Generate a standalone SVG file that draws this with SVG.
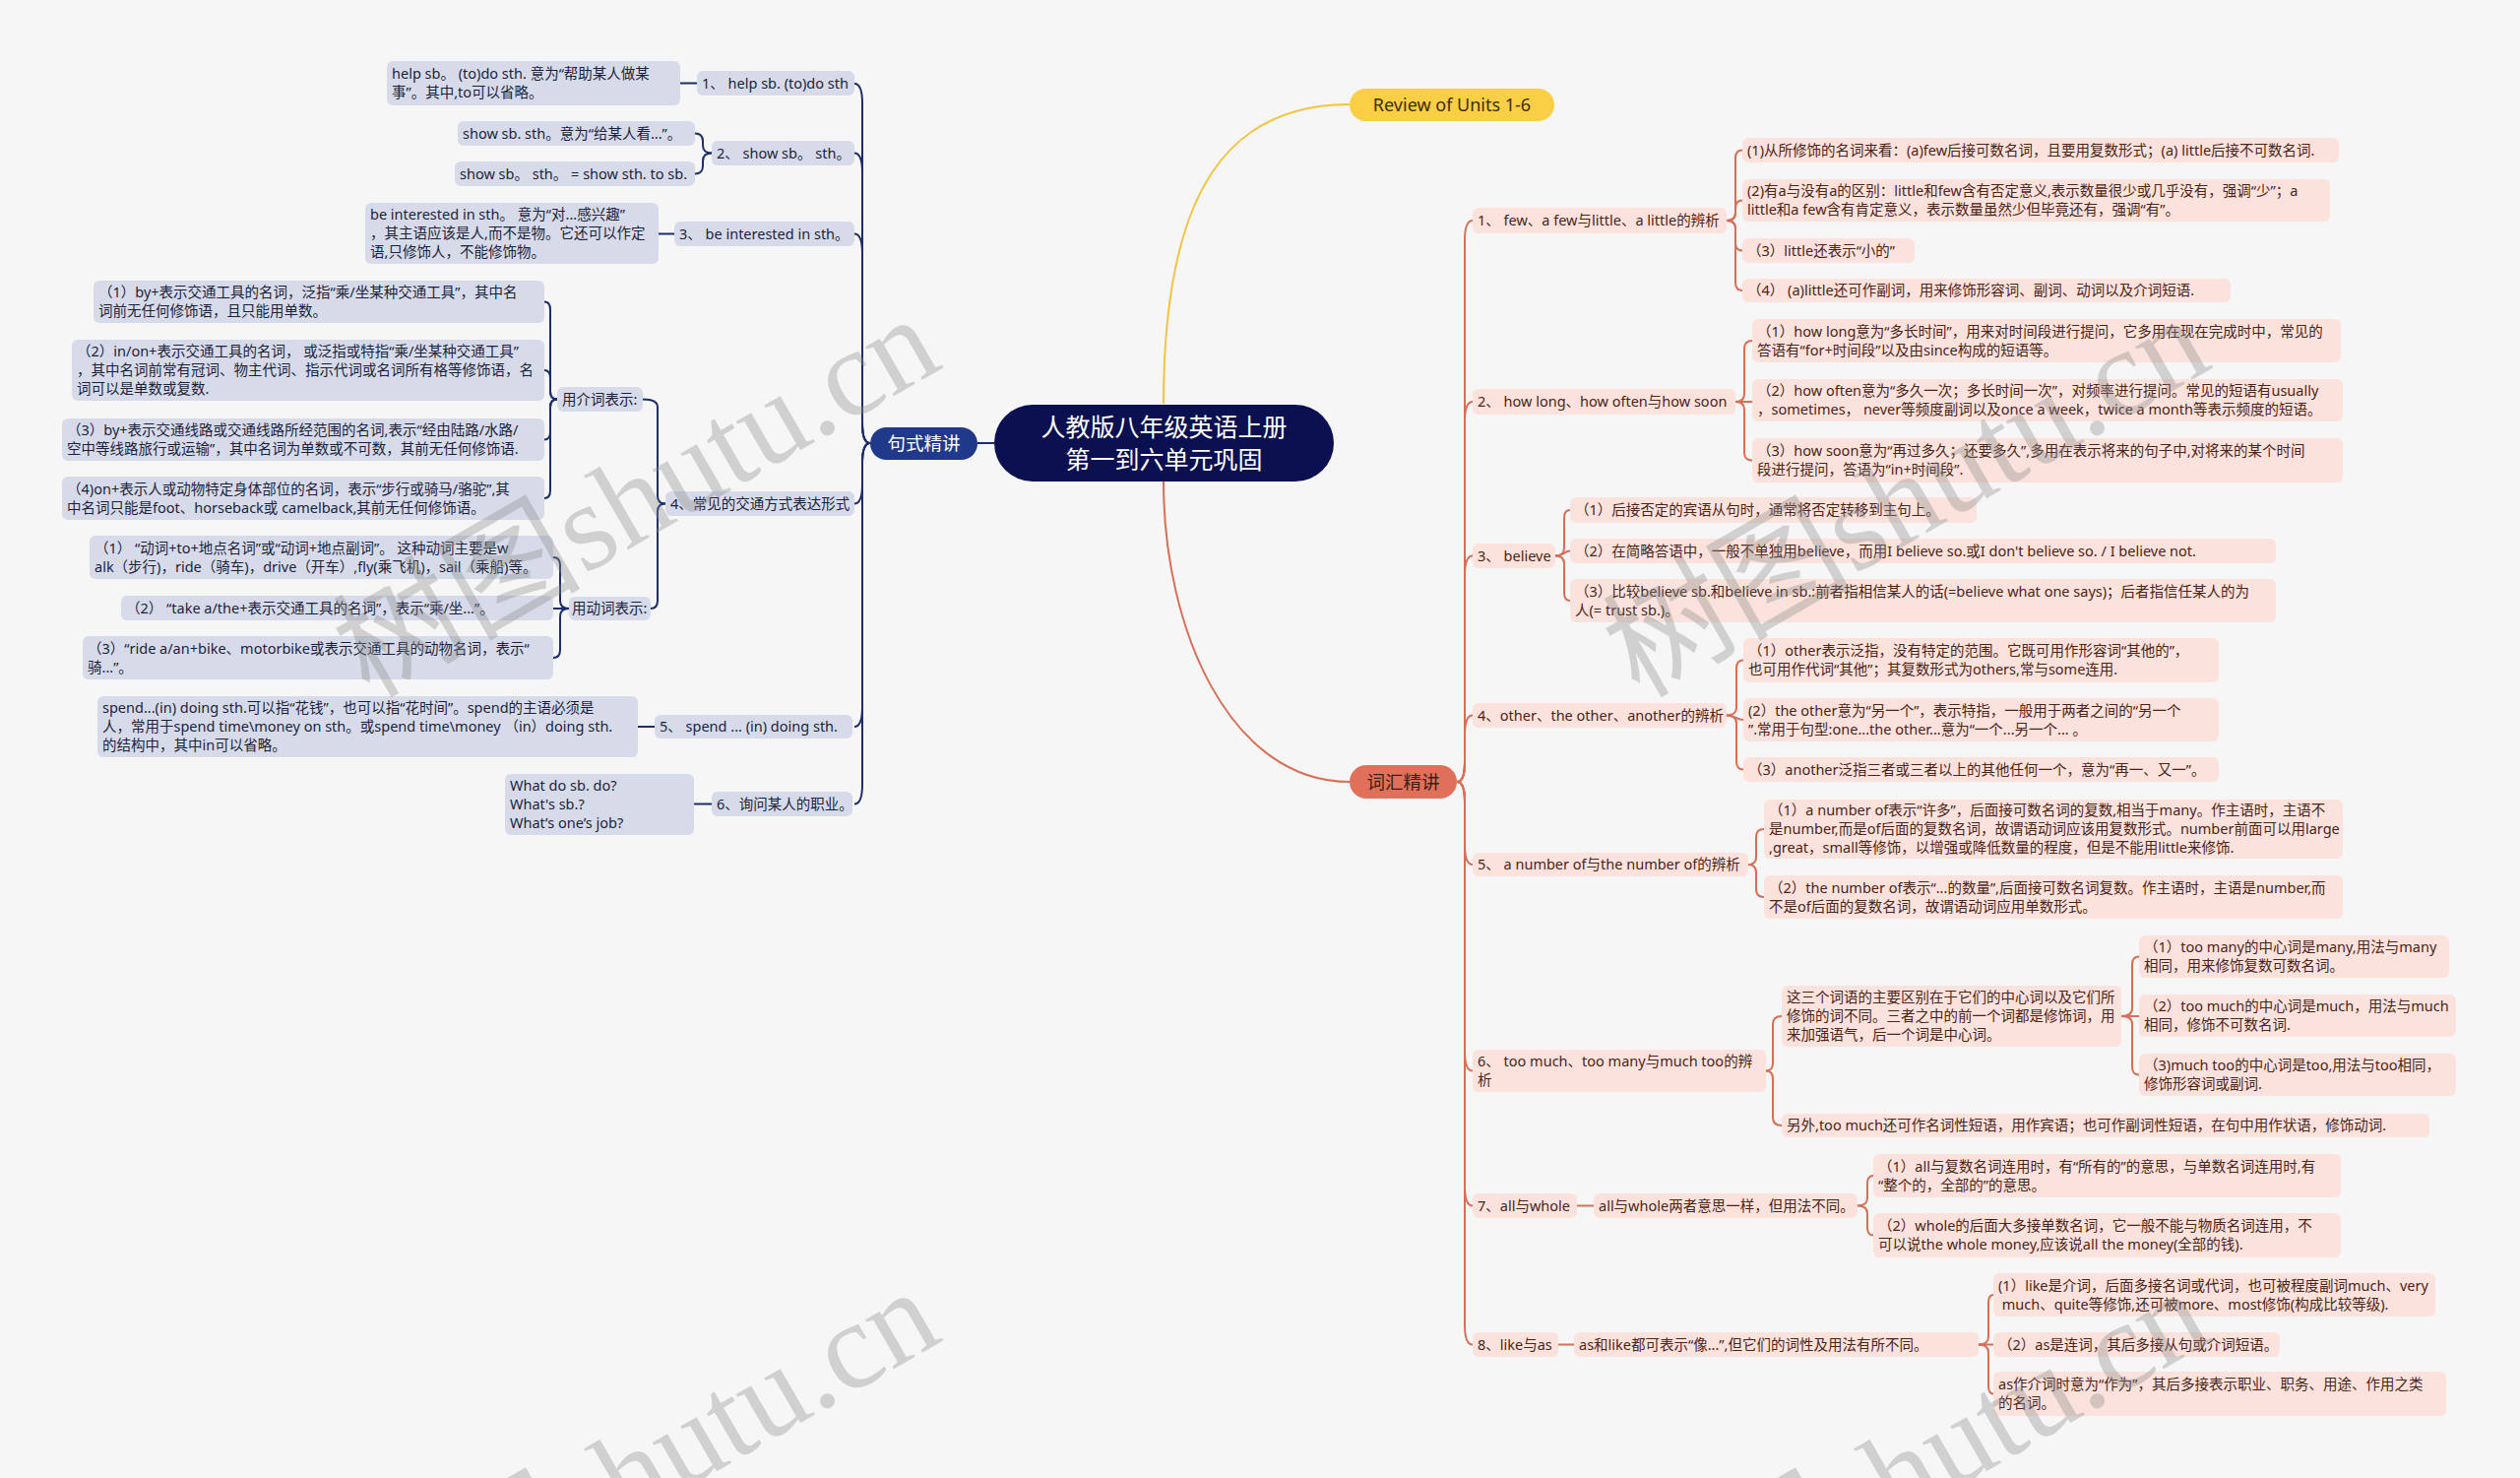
<svg xmlns="http://www.w3.org/2000/svg" width="2560" height="1501" viewBox="0 0 2560 1501">
<style>
.bl{fill:#d7dbe9}
.br{fill:#fbe2dc}
text{font-family:'Noto Sans','Noto Sans CJK SC',sans-serif}
.tl{font-size:14.5px;fill:#1b1f3c}
.tr{font-size:14.5px;fill:#4b2418}
.cl{stroke:#1d2d6c;fill:none;stroke-width:2}
.cr{stroke:#d76f57;fill:none;stroke-width:2}
.wm{font-family:'Liberation Serif','Noto Sans CJK SC',serif;font-size:126px;fill:#8a8a8a;opacity:0.35}
</style>
<rect x="0" y="0" width="2560" height="1501" fill="#f6f6f6"/>

<g id="connectors">
<path d="M1182,410 C1182,190 1250,106 1371,106" stroke="#f2c443" stroke-width="2" fill="none"/>
<path d="M1182,489 C1182,640 1250,794 1371,794" stroke="#d76f57" stroke-width="2" fill="none"/>
<path class="cl" d="M1010,450 H993"/>
<path class="cl" d="M884,450 Q876,450 876,430 L876,105 Q876,85 868,85"/>
<path class="cl" d="M884,450 Q876,450 876,430 L876,175.5 Q876,155.5 868,155.5"/>
<path class="cl" d="M884,450 Q876,450 876,430 L876,257.5 Q876,237.5 868,237.5"/>
<path class="cl" d="M884,450 Q876,450 876,470 L876,491.5 Q876,511.5 868,511.5"/>
<path class="cl" d="M884,450 Q876,450 876,470 L876,718 Q876,738 868,738"/>
<path class="cl" d="M884,450 Q876,450 876,470 L876,796.5 Q876,816.5 868,816.5"/>
<path class="cl" d="M708,84.5 H691"/>
<path class="cl" d="M723,155.5 Q714,155.5 714,147.5 L714,143.5 Q714,135.5 706,135.5"/>
<path class="cl" d="M723,155.5 Q714,155.5 714,163.5 L714,168.5 Q714,176.5 706,176.5"/>
<path class="cl" d="M685,237.5 H669"/>
<path class="cl" d="M676,511.5 Q668,511.5 668,503.5 L668,413.5 Q668,405.5 653,405.5"/>
<path class="cl" d="M676,511.5 Q668,511.5 668,519.5 L668,610 Q668,618 661,618"/>
<path class="cl" d="M566,405.5 Q559,405.5 559,397.5 L559,314.5 Q559,306.5 553,306.5"/>
<path class="cl" d="M566,405.5 Q559,405.5 559,397.5 L559,384 Q559,376 553,376"/>
<path class="cl" d="M566,405.5 Q559,405.5 559,413.5 L559,438.5 Q559,446.5 553,446.5"/>
<path class="cl" d="M566,405.5 Q559,405.5 559,413.5 L559,498 Q559,506 553,506"/>
<path class="cl" d="M578,618 Q569,618 569,610 L569,574 Q569,566 562,566"/>
<path class="cl" d="M578,618 H562"/>
<path class="cl" d="M578,618 Q569,618 569,626 L569,660 Q569,668 562,668"/>
<path class="cl" d="M665,738 H648"/>
<path class="cl" d="M723,816.5 H705"/>

<path class="cr" d="M1480,794 Q1488,794 1488,774 L1488,244 Q1488,224 1496,224"/>
<path class="cr" d="M1480,794 Q1488,794 1488,774 L1488,428 Q1488,408 1496,408"/>
<path class="cr" d="M1480,794 Q1488,794 1488,774 L1488,584.5 Q1488,564.5 1496,564.5"/>
<path class="cr" d="M1480,794 Q1488,794 1488,774 L1488,746.5 Q1488,726.5 1496,726.5"/>
<path class="cr" d="M1480,794 Q1488,794 1488,814 L1488,858 Q1488,878 1496,878"/>
<path class="cr" d="M1480,794 Q1488,794 1488,814 L1488,1067.5 Q1488,1087.5 1496,1087.5"/>
<path class="cr" d="M1480,794 Q1488,794 1488,814 L1488,1204.5 Q1488,1224.5 1496,1224.5"/>
<path class="cr" d="M1480,794 Q1488,794 1488,814 L1488,1345.5 Q1488,1365.5 1496,1365.5"/>
<path class="cr" d="M1754,224 Q1763,224 1763,216 L1763,160.5 Q1763,152.5 1770,152.5"/>
<path class="cr" d="M1754,224 Q1763,224 1763,216 L1763,211.5 Q1763,203.5 1770,203.5"/>
<path class="cr" d="M1754,224 Q1763,224 1763,232 L1763,246.5 Q1763,254.5 1770,254.5"/>
<path class="cr" d="M1754,224 Q1763,224 1763,232 L1763,287 Q1763,295 1770,295"/>
<path class="cr" d="M1763,408 Q1772,408 1772,400 L1772,354 Q1772,346 1780,346"/>
<path class="cr" d="M1763,408 H1780"/>
<path class="cr" d="M1763,408 Q1772,408 1772,416 L1772,459.5 Q1772,467.5 1780,467.5"/>
<path class="cr" d="M1580,564.5 Q1589,564.5 1589,556.5 L1589,526 Q1589,518 1595,518"/>
<path class="cr" d="M1580,564.5 C1589,564.5 1589,559.5 1595,559.5"/>
<path class="cr" d="M1580,564.5 Q1589,564.5 1589,572.5 L1589,602 Q1589,610 1595,610"/>
<path class="cr" d="M1754,726.5 Q1764,726.5 1764,718.5 L1764,678.5 Q1764,670.5 1771,670.5"/>
<path class="cr" d="M1754,726.5 C1764,726.5 1764,731 1771,731"/>
<path class="cr" d="M1754,726.5 Q1764,726.5 1764,734.5 L1764,773.5 Q1764,781.5 1771,781.5"/>
<path class="cr" d="M1776,878 Q1784,878 1784,870 L1784,850 Q1784,842 1792,842"/>
<path class="cr" d="M1776,878 Q1784,878 1784,886 L1784,903 Q1784,911 1792,911"/>
<path class="cr" d="M1794,1087.5 Q1801,1087.5 1801,1079.5 L1801,1040 Q1801,1032 1810,1032"/>
<path class="cr" d="M1794,1087.5 Q1801,1087.5 1801,1095.5 L1801,1135 Q1801,1143 1810,1143"/>
<path class="cr" d="M2155,1032 Q2166,1032 2166,1024 L2166,979.5 Q2166,971.5 2173,971.5"/>
<path class="cr" d="M2155,1032 H2173"/>
<path class="cr" d="M2155,1032 Q2166,1032 2166,1040 L2166,1083.5 Q2166,1091.5 2173,1091.5"/>
<path class="cr" d="M1602,1224.5 H1619"/>
<path class="cr" d="M1887,1224.5 Q1897,1224.5 1897,1216.5 L1897,1202 Q1897,1194 1903,1194"/>
<path class="cr" d="M1887,1224.5 Q1897,1224.5 1897,1232.5 L1897,1246.5 Q1897,1254.5 1903,1254.5"/>
<path class="cr" d="M1583,1365.5 H1599"/>
<path class="cr" d="M2010,1365.5 Q2020,1365.5 2020,1357.5 L2020,1323 Q2020,1315 2025,1315"/>
<path class="cr" d="M2010,1365.5 H2025"/>
<path class="cr" d="M2010,1365.5 Q2020,1365.5 2020,1373.5 L2020,1407.5 Q2020,1415.5 2025,1415.5"/>
</g>

<g id="root"><rect x="1010" y="411" width="345" height="78" rx="39" fill="#0b1050"/>
<text x="1182.5" text-anchor="middle" font-size="25" fill="#ffffff"><tspan x="1182.5" y="443">人教版八年级英语上册</tspan><tspan x="1182.5" y="476">第一到六单元巩固</tspan></text></g>
<g id="n-jushi"><rect x="884" y="434" width="109" height="33" rx="16.5" fill="#20398a"/><text x="938.5" y="457" text-anchor="middle" font-size="18.5" fill="#ffffff">句式精讲</text></g>
<g id="n-review"><rect x="1371" y="90" width="208" height="33" rx="16.5" fill="#fbcf45"/><text x="1475" y="112.5" text-anchor="middle" font-size="18" fill="#3b2e00">Review of Units 1-6</text></g>
<g id="n-cihui"><rect x="1371" y="777" width="109" height="34" rx="17" fill="#e0705a"/><text x="1425.5" y="800.5" text-anchor="middle" font-size="18.5" fill="#3b1f17">词汇精讲</text></g>

<g id="L1"><rect class="bl" x="708" y="72" width="160" height="25" rx="6"/><text class="tl" x="713" y="90">1、 help sb. (to)do sth</text></g>
<g id="L1c"><rect class="bl" x="393" y="62" width="298" height="45" rx="6"/><text class="tl"><tspan x="398" y="80">help sb。  (to)do sth. 意为“帮助某人做某</tspan><tspan x="398" y="99">事”。其中,to可以省略。</tspan></text></g>
<g id="L2"><rect class="bl" x="723" y="143" width="145" height="25" rx="6"/><text class="tl" x="728" y="160.5">2、 show sb。 sth。</text></g>
<g id="L2c1"><rect class="bl" x="465" y="123" width="241" height="25" rx="6"/><text class="tl" x="470" y="140.5">show sb. sth。意为“给某人看...”。</text></g>
<g id="L2c2"><rect class="bl" x="462" y="164" width="244" height="25" rx="6"/><text class="tl" x="467" y="181.5">show sb。 sth。 = show sth. to sb.</text></g>
<g id="L3"><rect class="bl" x="685" y="225" width="183" height="25" rx="6"/><text class="tl" x="690" y="242.5">3、 be interested in sth。</text></g>
<g id="L3c"><rect class="bl" x="371" y="206" width="298" height="62" rx="6"/><text class="tl"><tspan x="376" y="223">be interested in sth。 意为“对...感兴趣”</tspan><tspan x="376" y="242">，其主语应该是人,而不是物。它还可以作定</tspan><tspan x="376" y="261">语,只修饰人，不能修饰物。</tspan></text></g>
<g id="L4"><rect class="bl" x="676" y="499" width="192" height="25" rx="6"/><text class="tl" x="681" y="516.5">4、常见的交通方式表达形式</text></g>
<g id="L4a"><rect class="bl" x="566" y="393" width="87" height="25" rx="6"/><text class="tl" x="571" y="410.5">用介词表示:</text></g>
<g id="L4b"><rect class="bl" x="578" y="606" width="83" height="24" rx="6"/><text class="tl" x="581" y="623">用动词表示:</text></g>
<g id="a1"><rect class="bl" x="95" y="285" width="458" height="43" rx="6"/><text class="tl"><tspan x="100" y="302">（1）by+表示交通工具的名词，泛指“乘/坐某种交通工具”，其中名</tspan><tspan x="100" y="321">词前无任何修饰语，且只能用单数。</tspan></text></g>
<g id="a2"><rect class="bl" x="73" y="345" width="480" height="62" rx="6"/><text class="tl"><tspan x="78" y="362">（2）in/on+表示交通工具的名词， 或泛指或特指“乘/坐某种交通工具”</tspan><tspan x="78" y="381">，其中名词前常有冠词、物主代词、指示代词或名词所有格等修饰语，名</tspan><tspan x="78" y="400">词可以是单数或复数.</tspan></text></g>
<g id="a3"><rect class="bl" x="63" y="425" width="490" height="43" rx="6"/><text class="tl"><tspan x="68" y="442">（3）by+表示交通线路或交通线路所经范围的名词,表示“经由陆路/水路/</tspan><tspan x="68" y="461">空中等线路旅行或运输”，其中名词为单数或不可数，其前无任何修饰语.</tspan></text></g>
<g id="a4"><rect class="bl" x="63" y="484" width="490" height="44" rx="6"/><text class="tl"><tspan x="68" y="501.5">（4)on+表示人或动物特定身体部位的名词，表示“步行或骑马/骆驼”,其</tspan><tspan x="68" y="520.5">中名词只能是foot、horseback或 camelback,其前无任何修饰语。</tspan></text></g>
<g id="b1"><rect class="bl" x="91" y="544" width="471" height="44" rx="6"/><text class="tl"><tspan x="96" y="561.5">（1） “动词+to+地点名词”或“动词+地点副词”。 这种动词主要是w</tspan><tspan x="96" y="580.5">alk（步行)，ride（骑车)，drive（开车）,fly(乘飞机)，sail（乘船)等。</tspan></text></g>
<g id="b2"><rect class="bl" x="123" y="605" width="439" height="25" rx="6"/><text class="tl" x="128" y="622.5">（2） “take a/the+表示交通工具的名词”，表示“乘/坐...”。</text></g>
<g id="b3"><rect class="bl" x="84" y="646" width="478" height="44" rx="6"/><text class="tl"><tspan x="89" y="663.5">（3）“ride a/an+bike、motorbike或表示交通工具的动物名词，表示“</tspan><tspan x="89" y="682.5">骑...”。</tspan></text></g>
<g id="L5"><rect class="bl" x="665" y="726" width="201" height="24" rx="6"/><text class="tl" x="670" y="743">5、 spend ...  (in) doing sth.</text></g>
<g id="L5c"><rect class="bl" x="99" y="707" width="549" height="62" rx="6"/><text class="tl"><tspan x="104" y="724">spend...(in) doing sth.可以指“花钱”，也可以指“花时间”。spend的主语必须是</tspan><tspan x="104" y="743">人，常用于spend time\money on sth。或spend time\money （in）doing sth.</tspan><tspan x="104" y="762">的结构中，其中in可以省略。</tspan></text></g>
<g id="L6"><rect class="bl" x="723" y="804" width="143" height="25" rx="6"/><text class="tl" x="728" y="821.5">6、询问某人的职业。</text></g>
<g id="L6c"><rect class="bl" x="513" y="786" width="192" height="62" rx="6"/><text class="tl"><tspan x="518" y="803">What do sb. do?</tspan><tspan x="518" y="822">What's sb.?</tspan><tspan x="518" y="841">What’s one’s job?</tspan></text></g>

<g id="R1"><rect class="br" x="1496" y="211" width="258" height="26" rx="6"/><text class="tr" x="1501" y="229">1、 few、a few与little、a little的辨析</text></g>
<g id="R1c1"><rect class="br" x="1770" y="140" width="606" height="25" rx="6"/><text class="tr" x="1775" y="157.5">(1)从所修饰的名词来看：(a)few后接可数名词，且要用复数形式；(a)  little后接不可数名词.</text></g>
<g id="R1c2"><rect class="br" x="1770" y="182" width="597" height="43" rx="6"/><text class="tr"><tspan x="1775" y="199">(2)有a与没有a的区别：little和few含有否定意义,表示数量很少或几乎没有，强调“少”；a</tspan><tspan x="1775" y="218">little和a few含有肯定意义，表示数量虽然少但毕竟还有，强调“有”。</tspan></text></g>
<g id="R1c3"><rect class="br" x="1770" y="242" width="175" height="25" rx="6"/><text class="tr" x="1775" y="259.5">（3）little还表示“小的”</text></g>
<g id="R1c4"><rect class="br" x="1770" y="283" width="496" height="24" rx="6"/><text class="tr" x="1775" y="300">（4）  (a)little还可作副词，用来修饰形容词、副词、动词以及介词短语.</text></g>
<g id="R2"><rect class="br" x="1496" y="395" width="267" height="26" rx="6"/><text class="tr" x="1501" y="413">2、 how long、how often与how soon</text></g>
<g id="R2c1"><rect class="br" x="1780" y="324" width="598" height="44" rx="6"/><text class="tr"><tspan x="1785" y="341.5">（1）how long意为“多长时间”，用来对时间段进行提问，它多用在现在完成时中，常见的</tspan><tspan x="1785" y="360.5">答语有“for+时间段”以及由since构成的短语等。</tspan></text></g>
<g id="R2c2"><rect class="br" x="1780" y="385" width="600" height="43" rx="6"/><text class="tr"><tspan x="1785" y="402">（2）how often意为“多久一次；多长时间一次”，对频率进行提问。常见的短语有usually</tspan><tspan x="1785" y="421">，sometimes， never等频度副词以及once a week，twice a month等表示频度的短语。</tspan></text></g>
<g id="R2c3"><rect class="br" x="1780" y="445" width="600" height="45" rx="6"/><text class="tr"><tspan x="1785" y="463">（3）how soon意为“再过多久；还要多久”,多用在表示将来的句子中,对将来的某个时间</tspan><tspan x="1785" y="482">段进行提问，答语为“in+时间段”.</tspan></text></g>
<g id="R3"><rect class="br" x="1496" y="552" width="84" height="25" rx="6"/><text class="tr" x="1501" y="569.5">3、 believe</text></g>
<g id="R3c1"><rect class="br" x="1595" y="505" width="413" height="26" rx="6"/><text class="tr" x="1600" y="523">（1）后接否定的宾语从句时，通常将否定转移到主句上。</text></g>
<g id="R3c2"><rect class="br" x="1595" y="547" width="717" height="25" rx="6"/><text class="tr" x="1600" y="564.5">（2）在简略答语中，一般不单独用believe，而用I believe so.或I don't believe so. / I believe not.</text></g>
<g id="R3c3"><rect class="br" x="1595" y="588" width="717" height="44" rx="6"/><text class="tr"><tspan x="1600" y="605.5">（3）比较believe sb.和believe in sb.:前者指相信某人的话(=believe what one says)；后者指信任某人的为</tspan><tspan x="1600" y="624.5">人(= trust sb.)。</tspan></text></g>
<g id="R4"><rect class="br" x="1496" y="714" width="258" height="25" rx="6"/><text class="tr" x="1501" y="731.5">4、other、the other、another的辨析</text></g>
<g id="R4c1"><rect class="br" x="1771" y="648" width="483" height="45" rx="6"/><text class="tr"><tspan x="1776" y="666">（1）other表示泛指，没有特定的范围。它既可用作形容词“其他的”，</tspan><tspan x="1776" y="685">也可用作代词“其他”；其复数形式为others,常与some连用.</tspan></text></g>
<g id="R4c2"><rect class="br" x="1771" y="709" width="483" height="44" rx="6"/><text class="tr"><tspan x="1776" y="726.5">(2）the other意为“另一个”，表示特指，一般用于两者之间的“另一个</tspan><tspan x="1776" y="745.5">”.常用于句型:one...the other...意为“一个...另一个... 。</tspan></text></g>
<g id="R4c3"><rect class="br" x="1771" y="769" width="483" height="25" rx="6"/><text class="tr" x="1776" y="786.5">（3）another泛指三者或三者以上的其他任何一个，意为“再一、又一”。</text></g>
<g id="R5"><rect class="br" x="1496" y="866" width="280" height="24" rx="6"/><text class="tr" x="1501" y="883">5、 a number of与the number of的辨析</text></g>
<g id="R5c1"><rect class="br" x="1792" y="812" width="588" height="60" rx="6"/><text class="tr"><tspan x="1797" y="828">（1）a number of表示“许多”，后面接可数名词的复数,相当于many。作主语时，主语不</tspan><tspan x="1797" y="847">是number,而是of后面的复数名词，故谓语动词应该用复数形式。number前面可以用large</tspan><tspan x="1797" y="866">,great，small等修饰，以增强或降低数量的程度，但是不能用little来修饰.</tspan></text></g>
<g id="R5c2"><rect class="br" x="1792" y="889" width="588" height="44" rx="6"/><text class="tr"><tspan x="1797" y="906.5">（2）the number of表示“...的数量”,后面接可数名词复数。作主语时，主语是number,而</tspan><tspan x="1797" y="925.5">不是of后面的复数名词，故谓语动词应用单数形式。</tspan></text></g>
<g id="R6"><rect class="br" x="1496" y="1066" width="298" height="43" rx="6"/><text class="tr"><tspan x="1501" y="1083">6、 too much、too many与much too的辨</tspan><tspan x="1501" y="1102">析</tspan></text></g>
<g id="R6a"><rect class="br" x="1810" y="1001" width="345" height="62" rx="6"/><text class="tr"><tspan x="1815" y="1018">这三个词语的主要区别在于它们的中心词以及它们所</tspan><tspan x="1815" y="1037">修饰的词不同。三者之中的前一个词都是修饰词，用</tspan><tspan x="1815" y="1056">来加强语气，后一个词是中心词。</tspan></text></g>
<g id="R6a1"><rect class="br" x="2173" y="950" width="315" height="43" rx="6"/><text class="tr"><tspan x="2178" y="967">（1）too many的中心词是many,用法与many</tspan><tspan x="2178" y="986">相同，用来修饰复数可数名词。</tspan></text></g>
<g id="R6a2"><rect class="br" x="2173" y="1010" width="322" height="43" rx="6"/><text class="tr"><tspan x="2178" y="1027">（2）too much的中心词是much，用法与much</tspan><tspan x="2178" y="1046">相同，修饰不可数名词.</tspan></text></g>
<g id="R6a3"><rect class="br" x="2173" y="1070" width="322" height="43" rx="6"/><text class="tr"><tspan x="2178" y="1087">（3)much too的中心词是too,用法与too相同，</tspan><tspan x="2178" y="1106">修饰形容词或副词.</tspan></text></g>
<g id="R6b"><rect class="br" x="1810" y="1131" width="658" height="24" rx="6"/><text class="tr" x="1815" y="1148">另外,too much还可作名词性短语，用作宾语；也可作副词性短语，在句中用作状语，修饰动词.</text></g>
<g id="R7"><rect class="br" x="1496" y="1212" width="106" height="25" rx="6"/><text class="tr" x="1501" y="1229.5">7、all与whole</text></g>
<g id="R7a"><rect class="br" x="1619" y="1212" width="268" height="25" rx="6"/><text class="tr" x="1624" y="1229.5">all与whole两者意思一样，但用法不同。</text></g>
<g id="R7a1"><rect class="br" x="1903" y="1172" width="475" height="44" rx="6"/><text class="tr"><tspan x="1908" y="1189.5">（1）all与复数名词连用时，有“所有的”的意思，与单数名词连用时,有</tspan><tspan x="1908" y="1208.5">“整个的，全部的”的意思。</tspan></text></g>
<g id="R7a2"><rect class="br" x="1903" y="1232" width="475" height="45" rx="6"/><text class="tr"><tspan x="1908" y="1250">（2）whole的后面大多接单数名词，它一般不能与物质名词连用，不</tspan><tspan x="1908" y="1269">可以说the whole money,应该说all the money(全部的钱).</tspan></text></g>
<g id="R8"><rect class="br" x="1496" y="1353" width="87" height="25" rx="6"/><text class="tr" x="1501" y="1370.5">8、like与as</text></g>
<g id="R8a"><rect class="br" x="1599" y="1353" width="411" height="25" rx="6"/><text class="tr" x="1604" y="1370.5">as和like都可表示“像...”,但它们的词性及用法有所不同。</text></g>
<g id="R8a1"><rect class="br" x="2025" y="1293" width="449" height="44" rx="6"/><text class="tr"><tspan x="2030" y="1310.5">(1）like是介词，后面多接名词或代词，也可被程度副词much、very</tspan><tspan x="2030" y="1329.5"> much、quite等修饰,还可被more、most修饰(构成比较等级).</tspan></text></g>
<g id="R8a2"><rect class="br" x="2025" y="1353" width="291" height="25" rx="6"/><text class="tr" x="2030" y="1370.5">（2）as是连词，其后多接从句或介词短语。</text></g>
<g id="R8a3"><rect class="br" x="2025" y="1393" width="460" height="45" rx="6"/><text class="tr"><tspan x="2030" y="1411">as作介词时意为“作为”，其后多接表示职业、职务、用途、作用之类</tspan><tspan x="2030" y="1430">的名词。</tspan></text></g>

<g id="watermarks">
<text class="wm" transform="translate(375,710) rotate(-30)">树图shutu.cn</text>
<text class="wm" transform="translate(1665,710) rotate(-30)">树图shutu.cn</text>
<text class="wm" transform="translate(375,1698) rotate(-30)">树图shutu.cn</text>
<text class="wm" transform="translate(1665,1698) rotate(-30)">树图shutu.cn</text>
</g>
</svg>
